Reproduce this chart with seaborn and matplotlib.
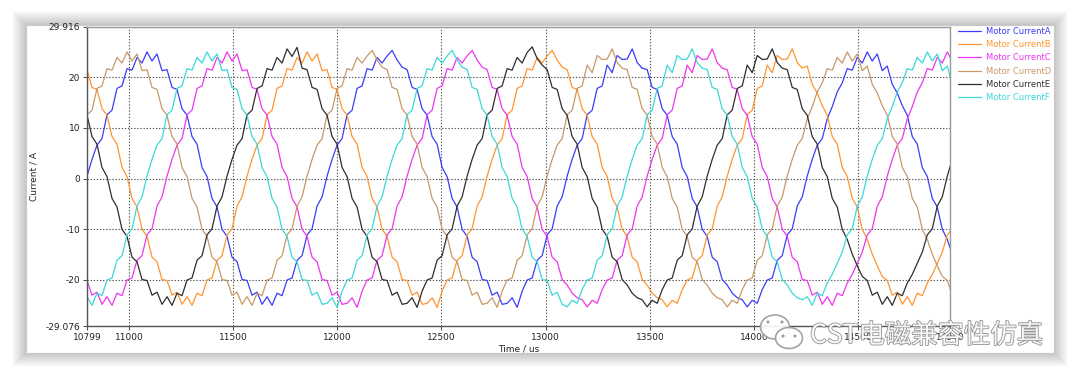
import numpy as np
import pandas as pd
import matplotlib
matplotlib.use("Agg")
import matplotlib.pyplot as plt
import matplotlib.patheffects as pe
from matplotlib.patches import Rectangle, Ellipse, Circle
import seaborn as sns

# =========================
# data (time in us, current in A)
time_us = [
    10799, 10823, 10847, 10871, 10895, 10919, 10943, 10967, 10991, 11015, 11039, 11063,
    11087, 11111, 11135, 11159, 11183, 11207, 11231, 11255, 11279, 11303, 11327, 11351,
    11375, 11399, 11423, 11447, 11471, 11495, 11519, 11543, 11567, 11591, 11615, 11639,
    11663, 11687, 11711, 11735, 11759, 11783, 11807, 11831, 11855, 11879, 11903, 11927,
    11951, 11975, 11999, 12023, 12047, 12071, 12095, 12119, 12143, 12167, 12191, 12215,
    12239, 12263, 12287, 12311, 12335, 12359, 12383, 12407, 12431, 12455, 12479, 12503,
    12527, 12551, 12575, 12599, 12623, 12647, 12671, 12695, 12719, 12743, 12767, 12791,
    12815, 12839, 12863, 12887, 12911, 12935, 12959, 12983, 13007, 13031, 13055, 13079,
    13103, 13127, 13151, 13175, 13199, 13223, 13247, 13271, 13295, 13319, 13343, 13367,
    13391, 13415, 13439, 13463, 13487, 13511, 13535, 13559, 13583, 13607, 13631, 13655,
    13679, 13703, 13727, 13751, 13775, 13799, 13823, 13847, 13871, 13895, 13919, 13943,
    13967, 13991, 14015, 14039, 14063, 14087, 14111, 14135, 14159, 14183, 14207, 14231,
    14255, 14279, 14303, 14327, 14351, 14375, 14399, 14423, 14447, 14471, 14495, 14519,
    14543, 14567, 14591, 14615, 14639, 14663, 14687, 14711, 14735, 14759, 14783, 14807,
    14831, 14855, 14879, 14903, 14927, 14951,
]

current_a = [
    0.5, 3.8, 6.6, 7.9, 12.6, 13.5, 17.8, 18.3, 21.7, 21.4, 23.9, 22.8, 25.0, 23.2, 24.6, 21.3, 21.5, 18.0, 17.6, 13.8, 12.5, 8.3, 6.8, 2.2,
    0.4, -3.9, -5.6, -10.0, -11.4, -15.5, -16.4, -19.9, -20.1, -23.0, -22.4, -24.8, -23.3, -25.0, -22.6, -23.1, -20.0, -19.6, -16.1, -15.2, -11.1, -9.9, -5.4, -3.6,
    0.5, 3.8, 6.6, 7.9, 12.6, 13.5, 17.8, 18.3, 21.7, 21.4, 23.9, 22.8, 24.2, 25.3, 23.4, 22.0, 21.5, 18.0, 17.6, 13.8, 12.5, 8.3, 6.8, 2.2,
    0.4, -3.9, -5.6, -10.0, -11.4, -15.5, -16.4, -19.9, -20.1, -23.0, -22.4, -24.8, -24.6, -23.5, -25.4, -22.2, -20.0, -19.6, -16.1, -15.2, -11.1, -9.9, -5.4, -3.6,
    0.5, 3.8, 6.6, 7.9, 12.6, 13.5, 17.8, 18.3, 22.4, 20.9, 24.3, 23.5, 23.6, 25.6, 22.9, 21.8, 21.5, 18.0, 17.6, 13.8, 12.5, 8.3, 6.8, 2.2,
    0.4, -3.9, -5.6, -10.0, -11.4, -15.5, -16.4, -19.9, -21.0, -22.6, -23.5, -23.9, -25.3, -24.0, -24.6, -21.9, -20.0, -19.6, -16.1, -15.2, -11.1, -9.9, -5.4, -3.6,
    0.5, 3.8, 6.6, 7.9, 11.8, 14.2, 17.1, 18.9, 21.7, 21.4, 23.9, 22.8, 25.0, 23.2, 24.6, 21.3, 22.2, 18.6, 16.9, 14.4, 12.5, 8.3, 6.8, 2.2,
    0.4, -3.9, -5.6, -10.0, -12.0, -14.9,
]

current_b = [
    21.5, 18.0, 17.6, 13.8, 12.5, 8.3, 6.8, 2.2, 0.4, -3.9, -5.6, -10.0, -11.4, -15.5, -16.4, -19.9, -20.1, -23.0, -22.4, -24.8, -23.3, -25.0, -22.6, -23.1,
    -20.0, -19.6, -16.1, -15.2, -11.1, -9.9, -5.4, -3.6, 0.5, 3.8, 6.6, 7.9, 12.6, 13.5, 17.8, 18.3, 21.7, 21.4, 23.9, 22.8, 25.0, 23.2, 24.6, 21.3,
    21.5, 18.0, 17.6, 13.8, 12.5, 8.3, 6.8, 2.2, 0.4, -3.9, -5.6, -10.0, -11.4, -15.5, -16.4, -19.9, -20.1, -23.0, -22.4, -24.8, -24.6, -23.5, -25.4, -22.2,
    -20.0, -19.6, -16.1, -15.2, -11.1, -9.9, -5.4, -3.6, 0.5, 3.8, 6.6, 7.9, 12.6, 13.5, 17.8, 18.3, 21.7, 21.4, 23.9, 22.8, 24.2, 25.3, 23.4, 22.0,
    21.5, 18.0, 17.6, 13.8, 12.5, 8.3, 6.8, 2.2, 0.4, -3.9, -5.6, -10.0, -11.4, -15.5, -16.4, -19.9, -21.0, -22.6, -23.5, -23.9, -25.3, -24.0, -24.6, -21.9,
    -20.0, -19.6, -16.1, -15.2, -11.1, -9.9, -5.4, -3.6, 0.5, 3.8, 6.6, 7.9, 12.6, 13.5, 17.8, 18.3, 22.4, 20.9, 24.3, 23.5, 23.6, 25.6, 22.9, 21.8,
    22.2, 18.6, 16.9, 14.4, 12.5, 8.3, 6.8, 2.2, 0.4, -3.9, -5.6, -10.0, -12.0, -14.9, -17.2, -19.3, -20.1, -23.0, -22.4, -24.8, -23.3, -25.0, -22.6, -23.1,
    -20.6, -18.9, -16.7, -14.5, -11.1, -9.9,
]

current_c = [
    -20.1, -23.0, -22.4, -24.8, -23.3, -25.0, -22.6, -23.1, -20.0, -19.6, -16.1, -15.2, -11.1, -9.9, -5.4, -3.6, 0.5, 3.8, 6.6, 7.9, 12.6, 13.5, 17.8, 18.3,
    21.7, 21.4, 23.9, 22.8, 25.0, 23.2, 24.6, 21.3, 21.5, 18.0, 17.6, 13.8, 12.5, 8.3, 6.8, 2.2, 0.4, -3.9, -5.6, -10.0, -11.4, -15.5, -16.4, -19.9,
    -20.1, -23.0, -22.4, -24.8, -24.6, -23.5, -25.4, -22.2, -20.0, -19.6, -16.1, -15.2, -11.1, -9.9, -5.4, -3.6, 0.5, 3.8, 6.6, 7.9, 12.6, 13.5, 17.8, 18.3,
    21.7, 21.4, 23.9, 22.8, 24.2, 25.3, 23.4, 22.0, 21.5, 18.0, 17.6, 13.8, 12.5, 8.3, 6.8, 2.2, 0.4, -3.9, -5.6, -10.0, -11.4, -15.5, -16.4, -19.9,
    -21.0, -22.6, -23.5, -23.9, -25.3, -24.0, -24.6, -21.9, -20.0, -19.6, -16.1, -15.2, -11.1, -9.9, -5.4, -3.6, 0.5, 3.8, 6.6, 7.9, 12.6, 13.5, 17.8, 18.3,
    22.4, 20.9, 24.3, 23.5, 23.6, 25.6, 22.9, 21.8, 21.5, 18.0, 17.6, 13.8, 12.5, 8.3, 6.8, 2.2, 0.4, -3.9, -5.6, -10.0, -11.4, -15.5, -16.4, -19.9,
    -20.1, -23.0, -22.4, -24.8, -23.3, -25.0, -22.6, -23.1, -20.6, -18.9, -16.7, -14.5, -11.1, -9.9, -5.4, -3.6, 0.5, 3.8, 6.6, 7.9, 11.8, 14.2, 17.1, 18.9,
    21.7, 21.4, 23.9, 22.8, 25.0, 23.2,
]

current_d = [
    12.6, 13.5, 17.8, 18.3, 21.7, 21.4, 23.9, 22.8, 25.0, 23.2, 24.6, 21.3, 21.5, 18.0, 17.6, 13.8, 12.5, 8.3, 6.8, 2.2, 0.4, -3.9, -5.6, -10.0,
    -11.4, -15.5, -16.4, -19.9, -20.1, -23.0, -22.4, -24.8, -23.3, -25.0, -22.6, -23.1, -20.0, -19.6, -16.1, -15.2, -11.1, -9.9, -5.4, -3.6, 0.5, 3.8, 6.6, 7.9,
    12.6, 13.5, 17.8, 18.3, 21.7, 21.4, 23.9, 22.8, 24.2, 25.3, 23.4, 22.0, 21.5, 18.0, 17.6, 13.8, 12.5, 8.3, 6.8, 2.2, 0.4, -3.9, -5.6, -10.0,
    -11.4, -15.5, -16.4, -19.9, -20.1, -23.0, -22.4, -24.8, -24.6, -23.5, -25.4, -22.2, -20.0, -19.6, -16.1, -15.2, -11.1, -9.9, -5.4, -3.6, 0.5, 3.8, 6.6, 7.9,
    12.6, 13.5, 17.8, 18.3, 22.4, 20.9, 24.3, 23.5, 23.6, 25.6, 22.9, 21.8, 21.5, 18.0, 17.6, 13.8, 12.5, 8.3, 6.8, 2.2, 0.4, -3.9, -5.6, -10.0,
    -11.4, -15.5, -16.4, -19.9, -21.0, -22.6, -23.5, -23.9, -25.3, -24.0, -24.6, -21.9, -20.0, -19.6, -16.1, -15.2, -11.1, -9.9, -5.4, -3.6, 0.5, 3.8, 6.6, 7.9,
    11.8, 14.2, 17.1, 18.9, 21.7, 21.4, 23.9, 22.8, 25.0, 23.2, 24.6, 21.3, 22.2, 18.6, 16.9, 14.4, 12.5, 8.3, 6.8, 2.2, 0.4, -3.9, -5.6, -10.0,
    -12.0, -14.9, -17.2, -19.3, -20.1, -23.0,
]

current_e = [
    12.5, 8.3, 6.8, 2.2, 0.4, -3.9, -5.6, -10.0, -11.4, -15.5, -16.4, -19.9, -20.1, -23.0, -22.4, -24.8, -23.3, -25.0, -22.6, -23.1, -20.0, -19.6, -16.1, -15.2,
    -11.1, -9.9, -5.4, -3.6, 0.5, 3.8, 6.6, 7.9, 12.6, 13.5, 17.8, 18.3, 21.7, 21.4, 23.9, 22.8, 25.6, 24.1, 25.9, 21.8, 21.5, 18.0, 17.6, 13.8,
    12.5, 8.3, 6.8, 2.2, 0.4, -3.9, -5.6, -10.0, -11.4, -15.5, -16.4, -19.9, -20.1, -23.0, -22.4, -24.8, -24.6, -23.5, -25.4, -22.2, -20.0, -19.6, -16.1, -15.2,
    -11.1, -9.9, -5.4, -3.6, 0.5, 3.8, 6.6, 7.9, 12.6, 13.5, 17.8, 18.3, 21.7, 21.4, 23.9, 22.8, 24.9, 26.0, 23.7, 22.4, 21.5, 18.0, 17.6, 13.8,
    12.5, 8.3, 6.8, 2.2, 0.4, -3.9, -5.6, -10.0, -11.4, -15.5, -16.4, -19.9, -21.0, -22.6, -23.5, -23.9, -25.3, -24.0, -24.6, -21.9, -20.0, -19.6, -16.1, -15.2,
    -11.1, -9.9, -5.4, -3.6, 0.5, 3.8, 6.6, 7.9, 12.6, 13.5, 17.8, 18.3, 22.4, 20.9, 24.3, 23.5, 23.6, 25.6, 22.9, 21.8, 21.5, 18.0, 17.6, 13.8,
    12.5, 8.3, 6.8, 2.2, 0.4, -3.9, -5.6, -10.0, -12.0, -14.9, -17.2, -19.3, -20.1, -23.0, -22.4, -24.8, -23.3, -25.0, -22.6, -23.1, -20.6, -18.9, -16.7, -14.5,
    -11.1, -9.9, -5.4, -3.6, 0.5, 3.8,
]

current_f = [
    -23.3, -25.0, -22.6, -23.1, -20.0, -19.6, -16.1, -15.2, -11.1, -9.9, -5.4, -3.6, 0.5, 3.8, 6.6, 7.9, 12.6, 13.5, 17.8, 18.3, 21.7, 21.4, 23.9, 22.8,
    25.0, 23.2, 24.6, 21.3, 21.5, 18.0, 17.6, 13.8, 12.5, 8.3, 6.8, 2.2, 0.4, -3.9, -5.6, -10.0, -11.4, -15.5, -16.4, -19.9, -20.1, -23.0, -22.4, -24.8,
    -24.6, -23.5, -25.4, -22.2, -20.0, -19.6, -16.1, -15.2, -11.1, -9.9, -5.4, -3.6, 0.5, 3.8, 6.6, 7.9, 12.6, 13.5, 17.8, 18.3, 21.7, 21.4, 23.9, 22.8,
    24.2, 25.3, 23.4, 22.0, 21.5, 18.0, 17.6, 13.8, 12.5, 8.3, 6.8, 2.2, 0.4, -3.9, -5.6, -10.0, -11.4, -15.5, -16.4, -19.9, -20.1, -23.0, -22.4, -24.8,
    -25.3, -24.0, -24.6, -21.9, -20.0, -19.6, -16.1, -15.2, -11.1, -9.9, -5.4, -3.6, 0.5, 3.8, 6.6, 7.9, 12.6, 13.5, 17.8, 18.3, 22.4, 20.9, 24.3, 23.5,
    23.6, 25.6, 22.9, 21.8, 21.5, 18.0, 17.6, 13.8, 12.5, 8.3, 6.8, 2.2, 0.4, -3.9, -5.6, -10.0, -11.4, -15.5, -16.4, -19.9, -21.0, -22.6, -23.5, -23.9,
    -23.3, -25.0, -22.6, -23.1, -20.6, -18.9, -16.7, -14.5, -11.1, -9.9, -5.4, -3.6, 0.5, 3.8, 6.6, 7.9, 11.8, 14.2, 17.1, 18.9, 21.7, 21.4, 23.9, 22.8,
    25.0, 23.2, 24.6, 21.3, 22.2, 18.6,
]

signal_names = ["Motor CurrentA", "Motor CurrentB", "Motor CurrentC",
                "Motor CurrentD", "Motor CurrentE", "Motor CurrentF"]
line_colors = ["#3c3cf8", "#ff9430", "#ee36ee", "#c89866", "#2e2e2e", "#3ad8d8"]

y_ticks = [-29.076, -20, -10, 0, 10, 20, 29.916]
y_labels = ["-29.076", "-20", "-10", "0", "10", "20", "29.916"]
x_ticks = [10799, 11000, 11500, 12000, 12500, 13000, 13500, 14000, 14500, 14940]
x_labels = ["10799", "11000", "11500", "12000", "12500", "13000", "13500", "14000", "14500", "14940"]
x_range = (10799, 14940)
y_range = (-29.076, 29.916)

# =========================
sns.set_style("white")
plt.rcParams["font.family"] = ["DejaVu Sans"]

df = pd.DataFrame({"Time": time_us})
for name, values in zip(signal_names, [current_a, current_b, current_c,
                                       current_d, current_e, current_f]):
    df[name] = values
long_df = df.melt(id_vars="Time", var_name="Signal", value_name="Current")

W, H = 1080, 381
fig = plt.figure(figsize=(W / 100, H / 100), dpi=100)
fig.patch.set_facecolor("white")

# card with soft shadow (pixel coords, y from top)
card_l, card_t, card_r, card_b = 26, 25, 1054, 353
for i in range(14, 0, -1):
    fig.add_artist(Rectangle(((card_l - i) / 100, (H - card_b - i) / 100),
                             (card_r - card_l + 2 * i) / 100, (card_b - card_t + 2 * i) / 100,
                             transform=fig.dpi_scale_trans, facecolor="black",
                             edgecolor="none", alpha=0.014, zorder=-20))
fig.add_artist(Rectangle((card_l / 100, (H - card_b) / 100),
                         (card_r - card_l) / 100, (card_b - card_t) / 100,
                         transform=fig.dpi_scale_trans, facecolor="white",
                         edgecolor="#c8c8c8", linewidth=0.8, zorder=-10))

ax_l, ax_t, ax_r, ax_b = 87, 27, 950, 326
ax = fig.add_axes([ax_l / W, (H - ax_b) / H, (ax_r - ax_l) / W, (ax_b - ax_t) / H])
ax.set_facecolor("white")

sns.lineplot(data=long_df, x="Time", y="Current", hue="Signal", palette=line_colors,
             estimator=None, linewidth=0.9, ax=ax)

ax.set_xlim(*x_range)
ax.set_ylim(*y_range)
ax.set_xticks(x_ticks, labels=x_labels)
ax.set_yticks(y_ticks, labels=y_labels)
ax.set_axisbelow(True)
ax.grid(True, linestyle=(0, (1.2, 1.6)), color="#555555", linewidth=0.8)
ax.tick_params(axis="both", which="both", bottom=True, left=True, direction="out",
               length=3, width=0.8, color="#555555", labelsize=6.5,
               labelcolor="#222222", pad=2)

for side in ["left", "bottom"]:
    ax.spines[side].set_color("#555555")
    ax.spines[side].set_linewidth(1.0)
for side in ["top", "right"]:
    ax.spines[side].set_color("#9a9a9a")
    ax.spines[side].set_linewidth(1.0)

ax.set_xlabel("Time / us", fontsize=6.5, color="#222222", labelpad=2)
ax.set_ylabel("Current / A", fontsize=6.5, color="#222222", labelpad=5)

handles, labels = ax.get_legend_handles_labels()
ax.legend(handles, labels, loc="upper left",
          bbox_to_anchor=(958 / W, (H - 27) / H), bbox_transform=fig.transFigure,
          frameon=False, fontsize=6, labelcolor="linecolor", handlelength=2.8,
          handletextpad=0.6, labelspacing=0.5, borderaxespad=0, borderpad=0)

# watermark
wm = fig.text(810 / 100, (H - 343) / 100, "CST电磁兼容性仿真",
              transform=fig.dpi_scale_trans, fontsize=19, color="white", alpha=0.9,
              family=["Noto Sans CJK SC", "DejaVu Sans"], va="baseline", ha="left",
              zorder=30)
wm.set_path_effects([pe.withStroke(linewidth=1.2, foreground="#8a8a8a")])
for cx, cy, w, h in [(775, 327, 29, 24), (789, 338, 27, 21)]:
    fig.add_artist(Ellipse((cx / 100, (H - cy) / 100), w / 100, h / 100,
                           transform=fig.dpi_scale_trans, facecolor="white",
                           edgecolor="#9a9a9a", linewidth=1.2, alpha=0.9, zorder=29))
for ex, ey in [(768, 322), (782, 322), (783, 336), (795, 336)]:
    fig.add_artist(Circle((ex / 100, (H - ey) / 100), 0.015,
                          transform=fig.dpi_scale_trans, facecolor="#9a9a9a",
                          edgecolor="none", zorder=31))

fig.savefig("out.png", dpi=100)
